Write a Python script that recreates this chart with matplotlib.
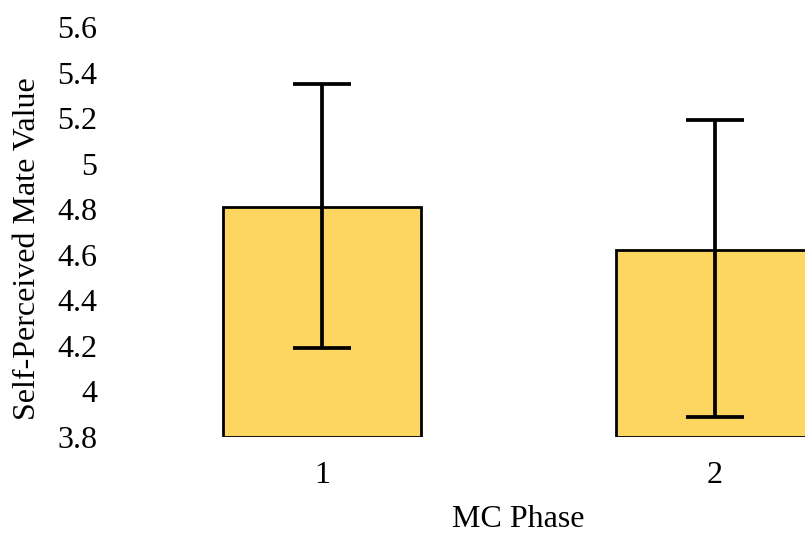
import matplotlib
matplotlib.use("Agg")
import matplotlib.pyplot as plt
import numpy as np

categories = ["1", "2"]
means = [4.81, 4.62]
err_lower = [4.19, 3.89]
err_upper = [5.35, 5.19]
ytick_values = [3.8, 4.0, 4.2, 4.4, 4.6, 4.8, 5.0, 5.2, 5.4, 5.6]
ytick_labels = ["3.8", "4", "4.2", "4.4", "4.6", "4.8", "5", "5.2", "5.4", "5.6"]

plt.rcParams['font.family'] = ['Liberation Serif', 'DejaVu Serif']

fig = plt.figure(figsize=(8.05, 5.34), dpi=100)
W, H = 805, 534
left_px, right_px = 125.5, 911
bottom_px, top_px = 437, 27
ax = fig.add_axes([left_px / W, (H - bottom_px) / H, (right_px - left_px) / W, (bottom_px - top_px) / H])

x = np.arange(len(categories)) + 0.5
m = np.array(means)
yerr = np.array([m - np.array(err_lower), np.array(err_upper) - m])
ax.bar(x, m - 3.8, bottom=3.8, width=0.504, color="#FCD660", edgecolor="black", linewidth=2.0, zorder=2)
ax.errorbar(x, m, yerr=yerr, fmt="none", ecolor="black", elinewidth=2.7, capsize=21, capthick=2.7, zorder=3)

ax.set_xlim(0, 2)
ax.set_ylim(3.8, 5.6)
ax.set_xticks(x)
ax.set_xticklabels(categories)
ax.set_yticks(ytick_values)
ax.set_yticklabels(ytick_labels)
ax.tick_params(axis="both", length=0, labelsize=23)
ax.tick_params(axis="y", pad=20.5)
ax.tick_params(axis="x", pad=17)
for s in ax.spines.values():
    s.set_visible(False)
ax.set_xlabel("MC Phase", fontsize=23, labelpad=11)
ax.set_ylabel("Self-Perceived Mate Value", fontsize=23)
ax.yaxis.set_label_coords((42 - left_px) / (right_px - left_px), (bottom_px - 249) / (bottom_px - top_px))

fig.savefig("out.png", dpi=100)
